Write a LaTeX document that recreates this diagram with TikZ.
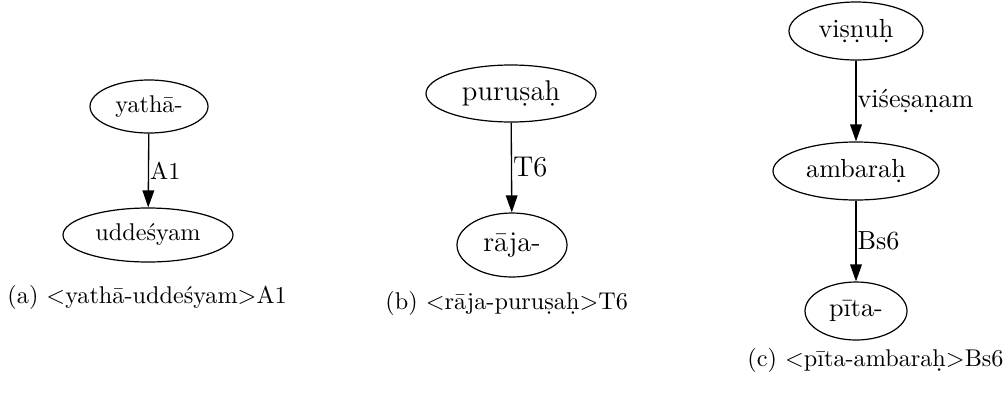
\documentclass[tikz,border=0pt]{standalone}
\usepackage{fontspec}
\usetikzlibrary{shapes.geometric,arrows.meta}
\newcommand\U{0.413pt}
\begin{document}
\begin{tikzpicture}[x=0.413pt,y=-0.413pt,
  ell/.style={draw, ellipse, line width=0.5pt, inner sep=0pt},
  edge/.style={draw, line width=0.55pt, -{Triangle[length=7pt,width=4.8pt]}},
  lbl/.style={anchor=west, inner sep=0.4pt},
  captxt/.style={inner sep=0pt}]
\useasboundingbox (0,0) rectangle (1008,392);
% panel a
\begin{scope}[every node/.append style={font=\fontsize{10}{12}\selectfont}]
\node[ell, minimum width=118*\U, minimum height=53*\U] (a1) at (149,106.5) {yathā-};
\node[ell, minimum width=170*\U, minimum height=54*\U] (a2) at (148,235) {uddeśyam};
\draw[edge] (a1) -- (a2) node[lbl, pos=0.5] {A1};
\end{scope}
\node[captxt, anchor=west] (ca) at (7,297) {(a) <yathā-uddeśyam>A1};
% panel b
\begin{scope}[every node/.append style={font=\fontsize{11.8}{14}\selectfont}]
\node[ell, minimum width=170*\U, minimum height=57*\U] (b1) at (511,93.5) {puruṣaḥ};
\node[ell, minimum width=110*\U, minimum height=64*\U] (b2) at (512,245) {rāja-};
\draw[edge] (b1) -- (b2) node[lbl, pos=0.5] {T6};
\end{scope}
\node[captxt, anchor=west] (cb) at (385,303) {(b) <rāja-puruṣaḥ>T6};
% panel c
\begin{scope}[every node/.append style={font=\fontsize{10.8}{13}\selectfont}]
\node[ell, minimum width=134*\U, minimum height=58*\U] (c1) at (856,31) {viṣṇuḥ};
\node[ell, minimum width=166*\U, minimum height=58*\U] (c2) at (856,171) {ambaraḥ};
\node[ell, minimum width=102*\U, minimum height=58*\U] (c3) at (856,311) {pīta-};
\draw[edge] (c1) -- (c2) node[lbl, pos=0.5] {viśeṣaṇam};
\draw[edge] (c2) -- (c3) node[lbl, pos=0.5] {Bs6};
\end{scope}
\node[captxt, anchor=east] (cc) at (1004,360) {(c) <pīta-ambaraḥ>Bs6};
\end{tikzpicture}
\end{document}
